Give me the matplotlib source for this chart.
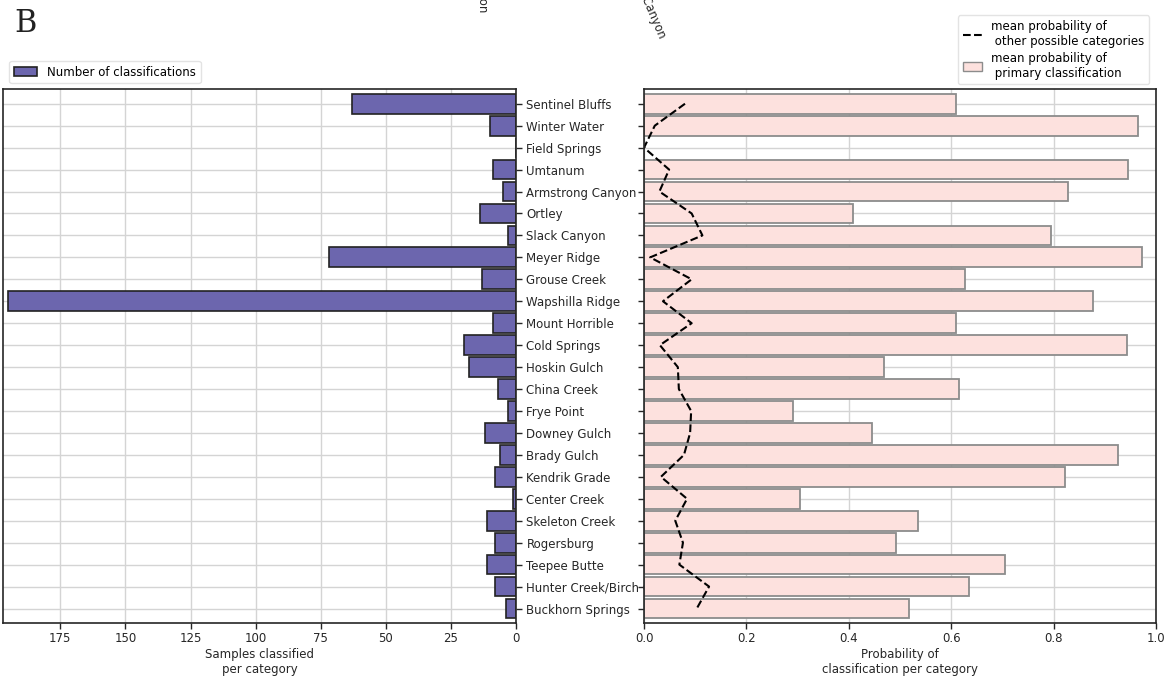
import matplotlib
matplotlib.use('Agg')
import matplotlib.pyplot as plt
import numpy as np
from matplotlib.patches import Patch
from matplotlib.lines import Line2D

categories = [
    'Sentinel Bluffs', 'Winter Water', 'Field Springs', 'Umtanum', 'Armstrong Canyon',
    'Ortley', 'Slack Canyon', 'Meyer Ridge', 'Grouse Creek', 'Wapshilla Ridge',
    'Mount Horrible', 'Cold Springs', 'Hoskin Gulch', 'China Creek', 'Frye Point',
    'Downey Gulch', 'Brady Gulch', 'Kendrik Grade', 'Center Creek', 'Skeleton Creek',
    'Rogersburg', 'Teepee Butte', 'Hunter Creek/Birch Creek', 'Buckhorn Springs',
]
n_classified = [63, 10, 0, 9, 5, 14, 3, 72, 13, 195, 9, 20, 18, 7, 3, 12, 6, 8, 1, 11, 8, 11, 8, 4]
prob_primary = [0.609, 0.965, 0.0, 0.945, 0.828, 0.409, 0.795, 0.973, 0.626, 0.877,
                0.609, 0.943, 0.468, 0.615, 0.290, 0.446, 0.926, 0.822, 0.305, 0.536,
                0.493, 0.705, 0.634, 0.517]
prob_other = [0.080, 0.021, 0.0, 0.049, 0.030, 0.093, 0.114, 0.012, 0.093, 0.037,
              0.093, 0.031, 0.066, 0.068, 0.092, 0.090, 0.078, 0.033, 0.084, 0.061,
              0.076, 0.069, 0.127, 0.103]
left_ticks = [0, 25, 50, 75, 100, 125, 150, 175]
right_ticks = [0.0, 0.2, 0.4, 0.6, 0.8, 1.0]

text_col = '#262626'
plt.rcParams['font.family'] = 'DejaVu Sans'
plt.rcParams['font.size'] = 8.5

fig = plt.figure(figsize=(11.68, 6.76), dpi=100)
y = np.arange(len(categories))

# Left panel: counts, axis reversed, labels on the right side
ax1 = fig.add_axes([0.0026, 0.0784, 0.4392, 0.7899])
ax1.barh(y, n_classified, height=0.9, color='#6c66ae', edgecolor='#222222', linewidth=1.2,
         label='Number of classifications')
ax1.set_xlim(197, 0)
ax1.set_ylim(23.66, -0.67)
ax1.set_xticks(left_ticks)
ax1.set_yticks(y)
ax1.set_yticklabels(categories)
ax1.yaxis.tick_right()
ax1.set_xlabel('Samples classified\nper category', color=text_col, labelpad=2)
ax1.legend(loc='lower left', bbox_to_anchor=(0.005, 1.004), borderaxespad=0.3,
           fontsize=8.5, frameon=True, edgecolor='#dddddd')

# Right panel: probabilities
ax2 = fig.add_axes([0.5514, 0.0784, 0.4384, 0.7899])
ax2.set_facecolor('white')
ax2.barh(y, prob_primary, height=0.9, color='#fde1de', edgecolor='#8c8c8c', linewidth=1.3)
ax2.plot(prob_other, y, color='black', linestyle='--', linewidth=1.5)
ax2.set_xlim(0, 1.0)
ax2.set_ylim(23.66, -0.67)
ax2.set_xticks(right_ticks)
ax2.set_yticks(y)
ax2.set_yticklabels([])
ax2.set_xlabel('Probability of\nclassification per category', color=text_col, labelpad=2)
handles = [Line2D([0], [0], color='black', linestyle='--', linewidth=1.5),
           Patch(facecolor='#fde1de', edgecolor='#8c8c8c')]
ax2.legend(handles, ['mean probability of\n other possible categories',
                     'mean probability of\n primary classification'],
           loc='lower right', bbox_to_anchor=(0.993, 1.002), borderaxespad=0.3,
           fontsize=8.5, frameon=True, edgecolor='#dddddd', handlelength=1.6,
           labelspacing=0.3)

for ax in (ax1, ax2):
    ax.set_axisbelow(True)
    ax.grid(True, color='#d4d4d4', linewidth=1.0)
    for s in ax.spines.values():
        s.set_color(text_col)
        s.set_linewidth(1.2)
    ax.tick_params(colors=text_col, labelcolor=text_col, labelsize=8.5, length=4, width=1)
    ax.tick_params(axis='x', pad=2.5)

fig.text(0.012, 0.965, 'B', family='DejaVu Serif', fontsize=22, color='#222222',
         va='center', ha='left')
# labels clipped at the top edge, as in the source figure
fig.text(483 / 1168, 1 - 12 / 676, 'Armstrong Canyon', rotation=-90, fontsize=8.5,
         color=text_col, ha='right', va='center', rotation_mode='anchor')
fig.text(662 / 1168, 1 - 38 / 676, 'Slack Canyon', rotation=-67, fontsize=8.5,
         color=text_col, ha='right', va='center', rotation_mode='anchor')

fig.savefig('out.png', dpi=100)
